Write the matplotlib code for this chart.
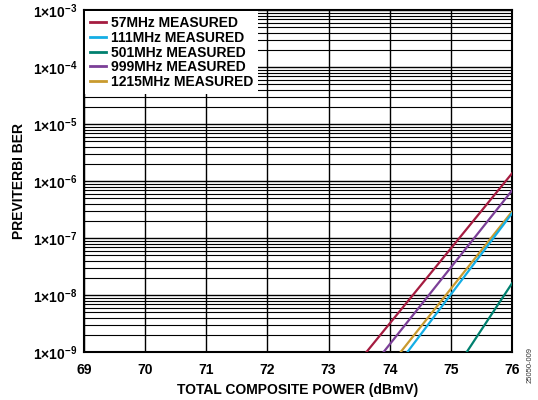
import matplotlib.pyplot as plt
from matplotlib.ticker import FixedLocator, LogLocator, NullFormatter

plt.rcParams['font.family'] = ['Liberation Sans', 'DejaVu Sans']
plt.rcParams['font.weight'] = 'bold'
plt.rcParams['mathtext.fontset'] = 'custom'
plt.rcParams['mathtext.rm'] = 'Liberation Sans:bold'
plt.rcParams['mathtext.it'] = 'Liberation Sans:bold'
plt.rcParams['mathtext.bf'] = 'Liberation Sans:bold'

# measured BER end points (dBmV, BER) per channel frequency
labels = ['57MHz MEASURED', '111MHz MEASURED', '501MHz MEASURED',
          '999MHz MEASURED', '1215MHz MEASURED']
colors = ['#A51C40', '#14AEE5', '#00806F', '#7B3F97', '#C99A2E']
power_57 = [73.62, 76.0]
ber_57 = [1e-9, 1.36e-6]
power_111 = [74.29, 76.0]
ber_111 = [1e-9, 2.7e-7]
power_501 = [75.26, 76.0]
ber_501 = [1e-9, 1.6e-8]
power_999 = [73.90, 76.0]
ber_999 = [1e-9, 6.8e-7]
power_1215 = [74.18, 76.0]
ber_1215 = [1e-9, 2.9e-7]

xticks = [69, 70, 71, 72, 73, 74, 75, 76]
yexps = [-9, -8, -7, -6, -5, -4, -3]

fig = plt.figure(figsize=(5.38, 4.0), dpi=100)
ax = fig.add_axes([84/538, 48/400, 428/538, 342/400])

series = [(power_57, ber_57), (power_111, ber_111), (power_501, ber_501),
          (power_999, ber_999), (power_1215, ber_1215)]
zorders = [4, 5, 4, 4, 3]
for (p, b), lab, c, z in zip(series, labels, colors, zorders):
    ax.plot(p, b, color=c, lw=1.6, label=lab, zorder=z)

ax.set_yscale('log')
ax.set_xlim(69, 76)
ax.set_ylim(1e-9, 1e-3)
ax.xaxis.set_major_locator(FixedLocator(xticks))
ax.set_xticklabels([str(t) for t in xticks], fontweight='bold', fontsize=10)
ax.yaxis.set_major_locator(FixedLocator([10.0**e for e in yexps]))
ax.set_yticklabels([r'$1{\times}10^{%d}$' % e for e in yexps], fontsize=10)
ax.yaxis.set_minor_locator(LogLocator(base=10, subs=range(2, 10), numticks=20))
ax.yaxis.set_minor_formatter(NullFormatter())

ax.grid(True, which='major', color='black', lw=1.0)
ax.grid(True, which='minor', axis='y', color='black', lw=0.8)
ax.tick_params(axis='x', which='both', length=0, pad=8)
ax.tick_params(axis='y', which='both', length=0, pad=5)
for s in ax.spines.values():
    s.set_linewidth(1.5)

ax.set_xlabel('TOTAL COMPOSITE POWER (dBmV)', fontsize=10, fontweight='bold', labelpad=4)
ax.set_ylabel('PREVITERBI BER', fontsize=10, fontweight='bold', labelpad=5)

leg = ax.legend(loc='upper left', frameon=True, fancybox=False,
                prop={'size': 10, 'weight': 'bold'},
                handlelength=1.1, handletextpad=0.4, labelspacing=0.05,
                borderaxespad=0.1, borderpad=0.35)
leg.get_frame().set_edgecolor('none')
leg.get_frame().set_facecolor('white')
leg.get_frame().set_alpha(1.0)
leg.set_zorder(10)
for line in leg.get_lines():
    line.set_linewidth(2.0)

fig.text(530/538, 1 - 365/400, '25050-009', rotation=90, fontsize=5.5,
         fontweight='normal', color='#333333', ha='center', va='center')

fig.savefig('out.png', dpi=100)
